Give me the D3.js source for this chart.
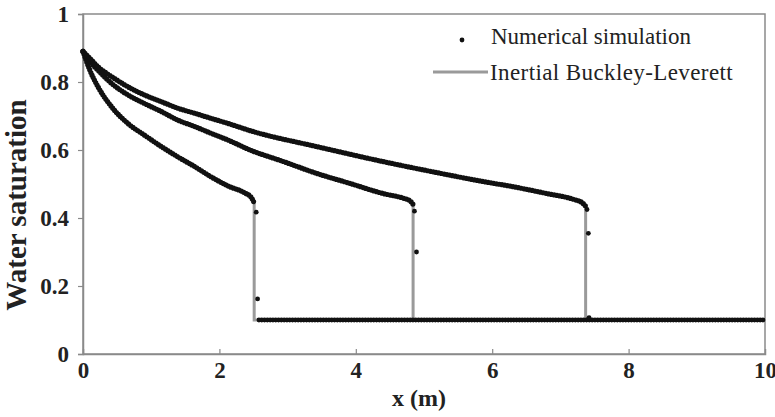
<!DOCTYPE html>
<html>
<head>
<meta charset="utf-8">
<script src="https://cdn.jsdelivr.net/npm/d3@7"></script>
<style>
  body { margin: 0; background: #fff; }
  svg { display: block; }
  .tick-label { font-family: "Liberation Serif", "Times New Roman", serif; font-weight: bold; font-size: 23px; fill: #222; }
  .axis-title { font-family: "Liberation Serif", "Times New Roman", serif; font-weight: bold; fill: #222; }
  .legend-text { font-family: "Liberation Serif", "Times New Roman", serif; font-size: 23px; fill: #222; }
</style>
</head>
<body>
<div id="chart"></div>
<script>
// Wassersättigungsprofile: Simulation (Punkte) vs. Inertial Buckley-Leverett (grau)

// --- Daten ---
const X_TICKS = [0, 2, 4, 6, 8, 10];
const Y_TICKS = [0, 0.2, 0.4, 0.6, 0.8, 1];
const Y_TICK_LABELS = ["0", "0.2", "0.4", "0.6", "0.8", "1"];
const S_INITIAL = 0.1;

// Profil 1 (Front bei ~2.51 m)
const profile1X = [0, 0.1, 0.22, 0.42, 0.66, 0.9, 1.15, 1.39, 1.64, 1.88, 2.13, 2.37, 2.47, 2.51];
const profile1S = [0.89, 0.835, 0.786, 0.727, 0.678, 0.644, 0.61, 0.58, 0.551, 0.521, 0.494, 0.474, 0.46, 0.445];

// Profil 2 (Front bei ~4.84 m)
const profile2X = [0, 0.1, 0.22, 0.42, 0.66, 0.9, 1.15, 1.39, 1.64, 1.88, 2.13, 2.45, 2.94, 3.43, 3.91, 4.4, 4.7, 4.8, 4.84];
const profile2S = [0.89, 0.86, 0.835, 0.796, 0.762, 0.737, 0.713, 0.688, 0.669, 0.649, 0.629, 0.6, 0.566, 0.531, 0.502, 0.472, 0.458, 0.45, 0.44];

// Profil 3 (Front bei ~7.37 m)
const profile3X = [0, 0.1, 0.22, 0.42, 0.66, 0.9, 1.15, 1.39, 1.64, 1.88, 2.13, 2.45, 3.43, 4.4, 5.38, 5.82, 6.31, 6.8, 7.19, 7.32, 7.37];
const profile3S = [0.89, 0.87, 0.845, 0.816, 0.786, 0.762, 0.742, 0.723, 0.708, 0.693, 0.678, 0.657, 0.61, 0.566, 0.526, 0.509, 0.492, 0.472, 0.455, 0.445, 0.435];

// Simulation: Einzelpunkte in den Fronten und Ausgangssättigung dahinter
const simFrontX = [2.54, 2.56, 4.86, 4.89, 7.39, 7.41, 7.42];
const simFrontS = [0.417, 0.162, 0.42, 0.30, 0.425, 0.355, 0.107];
const simTailX = [2.58, 10];
const simTailS = [0.1, 0.1];

const PROFILES = [
  { x: profile1X, s: profile1S },
  { x: profile2X, s: profile2S },
  { x: profile3X, s: profile3S }
];

// --- Setup ---
const W = 775, H = 417;
const margin = { top: 14, right: 10, bottom: 63, left: 83 };
const innerW = W - margin.left - margin.right;
const innerH = H - margin.top - margin.bottom;

const svg = d3.select("#chart").append("svg")
  .attr("width", W)
  .attr("height", H);

const g = svg.append("g").attr("transform", `translate(${margin.left},${margin.top})`);

const xScale = d3.scaleLinear().domain([0, 10]).range([0, innerW]);
const yScale = d3.scaleLinear().domain([0, 1]).range([innerH, 0]);

const AXIS_COLOR = "#8a8a8a";

// Rahmen
g.append("rect")
  .attr("x", 0).attr("y", 0)
  .attr("width", innerW).attr("height", innerH)
  .attr("fill", "none")
  .attr("stroke", AXIS_COLOR)
  .attr("stroke-width", 1.5);

// Achsen
const yAxis = g.append("g")
  .call(d3.axisLeft(yScale).tickValues(Y_TICKS).tickSize(5).tickPadding(9)
    .tickFormat((d, i) => Y_TICK_LABELS[i]));
const xAxis = g.append("g")
  .attr("transform", `translate(0,${innerH})`)
  .call(d3.axisBottom(xScale).tickValues(X_TICKS).tickSize(-5).tickPadding(8));

[xAxis, yAxis].forEach(ax => {
  ax.attr("font-family", null).attr("font-size", null);
  ax.select(".domain").attr("stroke", AXIS_COLOR).attr("stroke-width", 1.5);
  ax.selectAll(".tick line").attr("stroke", AXIS_COLOR).attr("stroke-width", 1.2);
  ax.selectAll(".tick text").attr("class", "tick-label").attr("fill", null);
});
xAxis.selectAll(".tick line").filter(d => d === 0 || d === 10).remove();

// Achsentitel
svg.append("text")
  .attr("class", "axis-title")
  .attr("x", margin.left + innerW / 2 - 5)
  .attr("y", 406)
  .attr("text-anchor", "middle")
  .attr("font-size", 24)
  .text("x (m)");

svg.append("text")
  .attr("class", "axis-title")
  .attr("transform", `translate(26,205) rotate(-90)`)
  .attr("text-anchor", "middle")
  .attr("font-size", 29)
  .text("Water saturation");

// --- Analytische Lösung (grau) ---
const gray = "#9a9a9a";
const curveLine = d3.line()
  .curve(d3.curveMonotoneX)
  .x(d => xScale(d[0]))
  .y(d => yScale(d[1]));
const straightLine = d3.line()
  .x(d => xScale(d[0]))
  .y(d => yScale(d[1]));

PROFILES.forEach(p => {
  const pts = p.x.map((x, i) => [x, p.s[i]]);
  const xf = p.x[p.x.length - 1];
  const front = [[xf, p.s[p.s.length - 1]], [xf, S_INITIAL], [10, S_INITIAL]];
  g.append("path")
    .attr("d", curveLine(pts) + straightLine(front).replace(/^M/, "L"))
    .attr("fill", "none")
    .attr("stroke", gray)
    .attr("stroke-width", 3);
});

// --- Simulation (dichte schwarze Punkte) ---
PROFILES.forEach(p => {
  g.append("path")
    .attr("d", curveLine(p.x.map((x, i) => [x, p.s[i]])))
    .attr("fill", "none")
    .attr("stroke", "#111")
    .attr("stroke-width", 5.2)
    .attr("stroke-linecap", "round")
    .attr("stroke-dasharray", "0 2.8");
});

g.append("path")
  .attr("d", straightLine(simTailX.map((x, i) => [x, simTailS[i]])))
  .attr("fill", "none")
  .attr("stroke", "#111")
  .attr("stroke-width", 4.8)
  .attr("stroke-linecap", "round")
  .attr("stroke-dasharray", "0 2.8");

g.selectAll("circle.front")
  .data(simFrontX.map((x, i) => [x, simFrontS[i]]))
  .enter().append("circle")
  .attr("class", "front")
  .attr("cx", d => xScale(d[0]))
  .attr("cy", d => yScale(d[1]))
  .attr("r", 2.4)
  .attr("fill", "#111");

// --- Legende ---
const legend = svg.append("g");
legend.append("circle")
  .attr("cx", 462).attr("cy", 40).attr("r", 2.4).attr("fill", "#111");
legend.append("text")
  .attr("class", "legend-text")
  .attr("x", 491).attr("y", 44)
  .text("Numerical simulation");
legend.append("line")
  .attr("x1", 433).attr("x2", 488)
  .attr("y1", 72).attr("y2", 72)
  .attr("stroke", gray).attr("stroke-width", 3);
legend.append("text")
  .attr("class", "legend-text")
  .attr("x", 490).attr("y", 80)
  .attr("letter-spacing", 0.4)
  .text("Inertial Buckley-Leverett");
</script>
</body>
</html>
